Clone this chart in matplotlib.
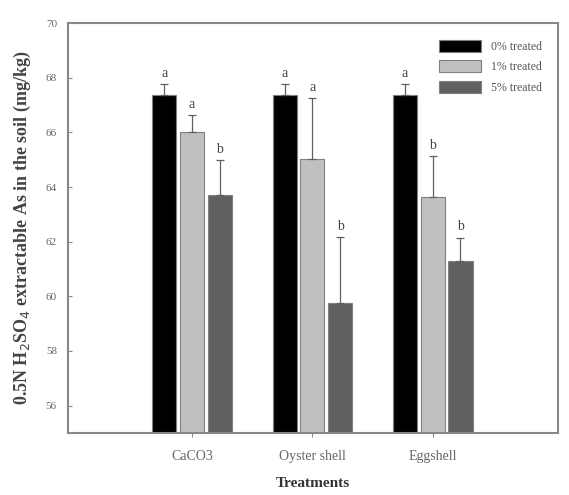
import matplotlib
matplotlib.use("Agg")
import matplotlib.pyplot as plt
import numpy as np

categories = ["CaCO3", "Oyster shell", "Eggshell"]
series_names = ["0% treated", "1% treated", "5% treated"]
vals_0 = [67.37, 67.37, 67.37]
vals_1 = [66.03, 65.04, 63.62]
vals_5 = [63.69, 59.76, 61.30]
err_0 = [0.40, 0.40, 0.40]
err_1 = [0.60, 2.20, 1.50]
err_5 = [1.28, 2.40, 0.85]
letters_0 = ["a", "a", "a"]
letters_1 = ["a", "a", "b"]
letters_5 = ["b", "b", "b"]

plt.rcParams['font.family'] = ['Liberation Serif', 'DejaVu Serif']

fig = plt.figure(figsize=(5.69, 4.95), dpi=100)
ax = fig.add_axes([0.1195, 0.1253, 0.8612, 0.8282])

x = np.arange(len(categories))
w = 0.20
off = 0.23
colors = ["#000000", "#c0c0c0", "#606060"]
all_vals = [vals_0, vals_1, vals_5]
all_errs = [err_0, err_1, err_5]
all_letters = [letters_0, letters_1, letters_5]
for i, (v, e, lt, c, name) in enumerate(zip(all_vals, all_errs, all_letters, colors, series_names)):
    pos = x + (i - 1) * off
    ax.bar(pos, v, width=w, color=c, edgecolor="#808080", linewidth=0.8, label=name, zorder=2)
    ax.errorbar(pos, v, yerr=[np.zeros(len(e)), e], fmt="none", ecolor="#606060",
                elinewidth=0.9, capsize=3, capthick=0.9, zorder=3)
    for p, vv, ee, l in zip(pos, v, e, lt):
        ax.text(p, vv + ee + 0.15, l, ha="center", va="bottom", fontsize=10, color="#444444")

ax.set_xlim(-1.03, 3.04)
ax.set_ylim(55, 70)
ax.set_yticks(np.arange(56, 71, 2))
ax.set_yticklabels([str(t) for t in range(56, 71, 2)], fontsize=8, color="#666666")
ax.set_xticks(x)
ax.set_xticklabels(["CaCO3", "Oyster shell", "Eggshell"], fontsize=10, color="#666666")
ax.tick_params(axis="y", direction="in", length=3, color="#888888", pad=8)
ax.tick_params(axis="x", direction="out", length=3, color="#888888", pad=9)
for s in ax.spines.values():
    s.set_color("#888888")
    s.set_linewidth(1.5)

ax.set_ylabel(r"0.5N H$_2$SO$_4$ extractable As in the soil (mg/kg)", fontsize=13,
              fontweight="bold", color="#444444", labelpad=9)
ax.set_xlabel("Treatments", fontsize=11, fontweight="bold", color="#333333", labelpad=10)

leg = ax.legend(loc="upper right", frameon=False, fontsize=8.5, handlelength=3.6,
                handleheight=1.2, labelspacing=0.65, borderaxespad=1.0)
for t in leg.get_texts():
    t.set_color("#555555")

fig.savefig("out.png", dpi=100)
